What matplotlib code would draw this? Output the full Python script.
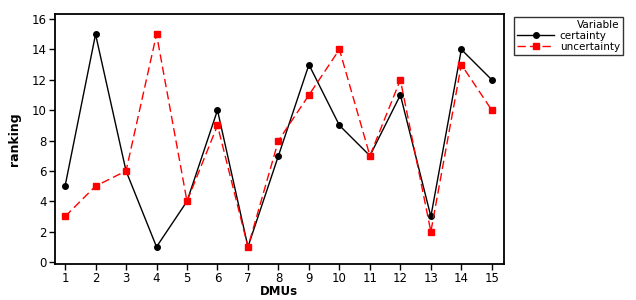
import matplotlib
matplotlib.use("Agg")
import matplotlib.pyplot as plt

dmus = list(range(1, 16))
certainty = [5, 15, 6, 1, 4, 10, 1, 7, 13, 9, 7, 11, 3, 14, 12]
uncertainty = [3, 5, 6, 15, 4, 9, 1, 8, 11, 14, 7, 12, 2, 13, 10]
yticks = [0, 2, 4, 6, 8, 10, 12, 14, 16]

plt.rcParams["font.family"] = ["DejaVu Sans"]

fig = plt.figure(figsize=(6.36, 3.0), dpi=100)
ax = fig.add_axes([0.0865, 0.12, 0.7055, 0.833])

ax.plot(dmus, certainty, color="black", lw=1.0, marker="o", ms=4,
        label="certainty")
ax.plot(dmus, uncertainty, color="red", lw=1.0, ls=(0, (6, 3)), marker="s",
        ms=4.5, label="uncertainty")

ax.set_xlim(0.67, 15.39)
ax.set_ylim(-0.13, 16.33)
ax.set_xticks(dmus)
ax.set_yticks(yticks)
ax.tick_params(direction="out", length=4, width=1, labelsize=8.5, pad=2)
for s in ax.spines.values():
    s.set_linewidth(1.3)

ax.set_xlabel("DMUs", fontsize=8.5, fontweight="bold", labelpad=0)
ax.set_ylabel("ranking", fontsize=9, fontweight="bold", labelpad=8)

leg = fig.legend(loc="upper left", bbox_to_anchor=(0.803, 0.955),
                 title="Variable", fontsize=7.5, title_fontsize=7.5,
                 frameon=True, fancybox=False, edgecolor="black",
                 handlelength=3.6, borderpad=0.3, labelspacing=0.1,
                 handletextpad=0.5, borderaxespad=0.3)
leg.get_frame().set_linewidth(1.0)
leg._legend_box.align = "right"

fig.savefig("out.png", dpi=100)
